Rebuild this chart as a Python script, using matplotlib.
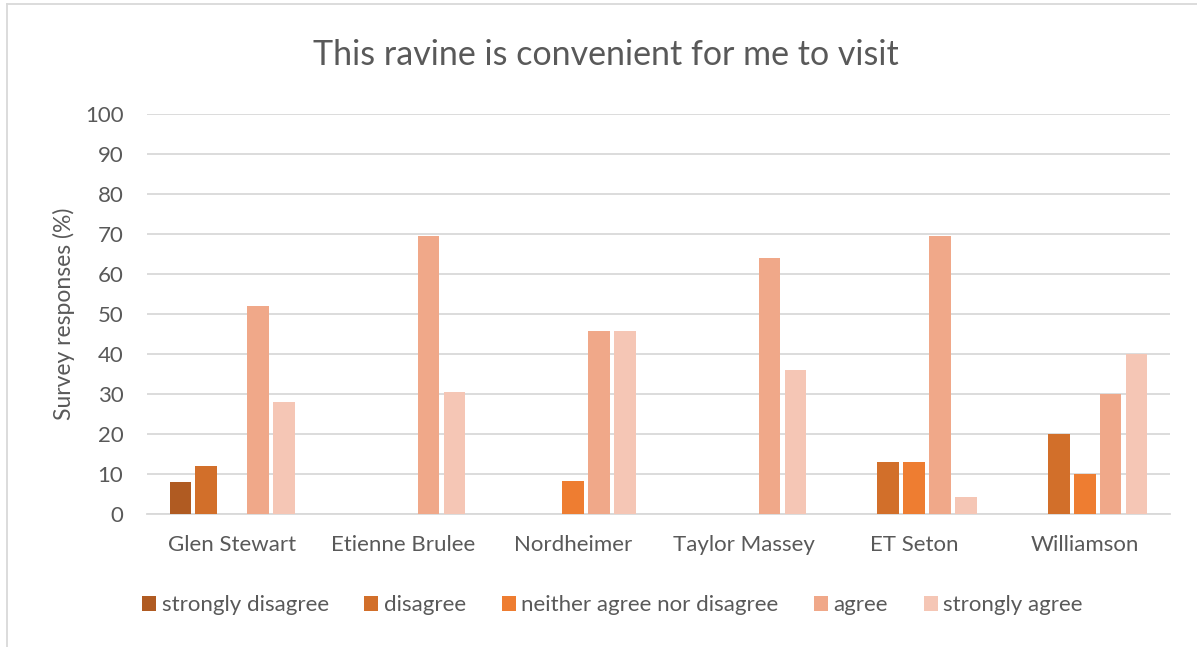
import matplotlib
matplotlib.use("Agg")
import matplotlib.pyplot as plt
import numpy as np
from matplotlib.lines import Line2D

categories = ["Glen Stewart", "Etienne Brulee", "Nordheimer", "Taylor Massey", "ET Seton", "Williamson"]
series_names = ["strongly disagree", "disagree", "neither agree nor disagree", "agree", "strongly agree"]
strongly_disagree = [8, 0, 0, 0, 0, 0]
disagree = [12, 0, 0, 0, 13.04, 20]
neither = [0, 0, 8.33, 0, 13.04, 10]
agree = [52, 69.57, 45.83, 64, 69.57, 30]
strongly_agree = [28, 30.43, 45.83, 36, 4.35, 40]
series_values = [strongly_disagree, disagree, neither, agree, strongly_agree]
colors = ["#B05B22", "#D26F2A", "#EE7D31", "#F0A889", "#F5C6B5"]
yticks = list(range(0, 101, 10))

plt.rcParams['font.family'] = ['Lato', 'DejaVu Sans']
text_color = "#595959"

fig = plt.figure(figsize=(11.97, 6.47), dpi=100)
ax = fig.add_axes([0.1228, 0.2056, 0.9774 - 0.1228, 0.8238 - 0.2056])

x = np.arange(len(categories))
slot = 0.152
width = 0.127
for i, (name, vals, c) in enumerate(zip(series_names, series_values, colors)):
    ax.bar(x + (i - 2) * slot, vals, width=width, color=c, label=name, zorder=3)

ax.set_xlim(-0.5, len(categories) - 0.5)
ax.set_ylim(0, 100)
ax.set_yticks(yticks)
ax.set_xticks(x)
ax.set_xticklabels(categories)
ax.yaxis.grid(True, color="#D9D9D9", linewidth=1.3, zorder=0)
ax.set_axisbelow(True)
for s in ["top", "right", "left"]:
    ax.spines[s].set_visible(False)
ax.spines["bottom"].set_color("#D9D9D9")
ax.spines["bottom"].set_linewidth(1.3)
ax.tick_params(axis="both", length=0, labelsize=16, colors=text_color)
ax.tick_params(axis="x", pad=15)
ax.tick_params(axis="y", pad=17)
ax.set_ylabel("Survey responses (%)", fontsize=16.5, color=text_color, labelpad=7)

fig.text(0.506, 0.915, "This ravine is convenient for me to visit", ha="center", va="center",
         fontsize=24.5, color=text_color)

leg = ax.legend(loc="center", bbox_to_anchor=(0.455, -0.228), ncol=5, frameon=False,
                fontsize=16, handlelength=0.63, handleheight=0.63, handletextpad=0.25,
                columnspacing=1.6, labelcolor=text_color, borderpad=0, borderaxespad=0)

# chart frame (left and top edges visible)
fig.add_artist(Line2D([7/1197, 7/1197], [0, 1 - 4/647], color="#D9D9D9", linewidth=1.3))
fig.add_artist(Line2D([7/1197, 1], [1 - 4/647, 1 - 4/647], color="#D9D9D9", linewidth=1.3))

fig.savefig("out.png", dpi=100)
